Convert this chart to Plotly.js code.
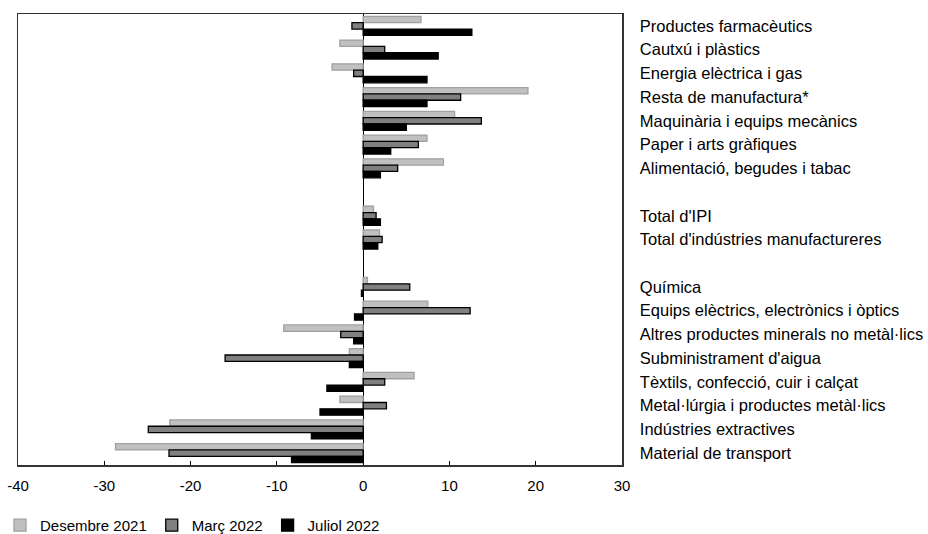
<!DOCTYPE html>
<html>
<head>
<meta charset="utf-8">
<script src="https://cdn.plot.ly/plotly-3.0.1.min.js"></script>
<style>html,body{margin:0;padding:0;background:#fff;}#chart{width:928px;height:534px;}</style>
</head>
<body>
<div id="chart"></div>
<script>
const categories = [
  "Productes farmacèutics",
  "Cautxú i plàstics",
  "Energia elèctrica i gas",
  "Resta de manufactura*",
  "Maquinària i equips mecànics",
  "Paper i arts gràfiques",
  "Alimentació, begudes i tabac",
  " ",
  "Total d'IPI",
  "Total d'indústries manufactureres",
  "  ",
  "Química",
  "Equips elèctrics, electrònics i òptics",
  "Altres productes minerals no metàl·lics",
  "Subministrament d'aigua",
  "Tèxtils, confecció, cuir i calçat",
  "Metal·lúrgia i productes metàl·lics",
  "Indústries extractives",
  "Material de transport"
];
const seriesNames = ["Desembre 2021", "Març 2022", "Juliol 2022"];
const desembre2021 = [6.7, -2.7, -3.6, 19.1, 10.6, 7.4, 9.3, null, 1.2, 1.9, null, 0.5, 7.5, -9.2, -1.6, 5.9, -2.7, -22.4, -28.7];
const marc2022     = [-1.3, 2.5, -1.1, 11.3, 13.7, 6.4, 4.0, null, 1.5, 2.2, null, 5.4, 12.4, -2.6, -16.0, 2.5, 2.7, -24.9, -22.5];
const juliol2022   = [12.6, 8.7, 7.4, 7.4, 5.0, 3.2, 2.0, null, 2.0, 1.7, null, -0.2, -1.0, -1.1, -1.6, -4.2, -5.0, -6.0, -8.3];
const xTicks = [-40, -30, -20, -10, 0, 10, 20, 30];

const styles = [
  {fill: "#c0c0c0", line: "#a0a0a0"},
  {fill: "#808080", line: "#000000"},
  {fill: "#000000", line: "#000000"}
];
const values = [desembre2021, marc2022, juliol2022];

const traces = values.map((v, i) => ({
  type: "bar",
  orientation: "h",
  name: seriesNames[i],
  x: v,
  y: categories,
  marker: {color: styles[i].fill, line: {color: styles[i].line, width: 1.3}},
  hoverinfo: "x+y+name"
}));

const layout = {
  width: 928,
  height: 534,
  margin: {l: 18, r: 306, t: 14, b: 69, pad: 0},
  paper_bgcolor: "#ffffff",
  plot_bgcolor: "#ffffff",
  font: {family: "Liberation Sans, Arial, sans-serif", size: 15, color: "#000"},
  barmode: "group",
  bargap: 0.2,
  bargroupgap: 0,
  showlegend: true,
  legend: {
    orientation: "h",
    xref: "paper", yref: "container",
    x: -0.03, y: 0.016, xanchor: "left", yanchor: "middle",
    font: {size: 15, color: "#000"},
    itemwidth: 30,
    traceorder: "normal",
    bgcolor: "rgba(0,0,0,0)"
  },
  xaxis: {
    range: [-40, 30],
    tickvals: xTicks,
    ticktext: xTicks.map(String),
    ticks: "inside",
    ticklen: 4,
    tickcolor: "#000",
    tickwidth: 1,
    showgrid: false,
    zeroline: true,
    zerolinecolor: "#000",
    zerolinewidth: 1,
    showline: true,
    linecolor: "#333",
    linewidth: 1.5,
    mirror: true,
    ticklabelstandoff: 6,
    tickfont: {size: 15, color: "#000"},
    fixedrange: true
  },
  yaxis: {
    type: "category",
    categoryorder: "array",
    categoryarray: categories,
    autorange: "reversed",
    side: "right",
    ticks: "",
    showgrid: false,
    zeroline: false,
    showline: true,
    linecolor: "#333",
    linewidth: 1.5,
    mirror: true,
    ticklabelstandoff: 13,
    tickfont: {size: 16.5, color: "#000"},
    fixedrange: true
  }
};

Plotly.newPlot("chart", traces, layout, {displayModeBar: false, staticPlot: true});
</script>
</body>
</html>
